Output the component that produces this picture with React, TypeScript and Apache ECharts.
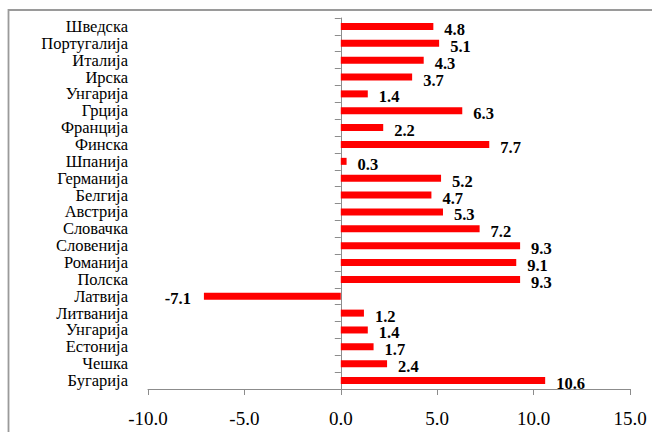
import React, { useEffect, useRef } from "react";
import * as echarts from "echarts";

const countries: string[] = [
  "Шведска", "Португалија", "Италија", "Ирска", "Унгарија", "Грција",
  "Франција", "Финска", "Шпанија", "Германија", "Белгија", "Австрија",
  "Словачка", "Словенија", "Романија", "Полска", "Латвија", "Литванија",
  "Унгарија", "Естонија", "Чешка", "Бугарија",
];
const values: number[] = [
  4.8, 5.1, 4.3, 3.7, 1.4, 6.3, 2.2, 7.7, 0.3, 5.2, 4.7, 5.3,
  7.2, 9.3, 9.1, 9.3, -7.1, 1.2, 1.4, 1.7, 2.4, 10.6,
];
const xMin = -10;
const xMax = 15;
const xStep = 5;
const titleText = "(Динамика на БДП, стапки на раст)";

const FONT = "Liberation Serif";

export default function App() {
  const ref = useRef<HTMLDivElement>(null);
  useEffect(() => {
    if (!ref.current) return;
    const chart = echarts.init(ref.current, undefined, { renderer: "svg" });
    chart.setOption({
      animation: false,
      backgroundColor: "#ffffff",
      textStyle: { fontFamily: FONT },
      grid: { left: 148, right: 22, top: 18, bottom: 43, containLabel: false },
      xAxis: {
        type: "value",
        min: xMin,
        max: xMax,
        interval: xStep,
        axisLine: { show: true, onZero: false, lineStyle: { color: "#8c8c8c", width: 1 } },
        axisTick: { show: true, length: 6, lineStyle: { color: "#8c8c8c" } },
        splitLine: { show: false },
        axisLabel: {
          margin: 20,
          fontFamily: FONT,
          fontSize: 19,
          color: "#000",
          formatter: (v: number) => v.toFixed(1),
        },
      },
      yAxis: [
        {
          type: "category",
          data: countries,
          inverse: true,
          position: "left",
          axisLine: { show: false, onZero: false },
          axisTick: { show: false },
          axisLabel: {
            margin: 20,
            fontFamily: FONT,
            fontSize: 16.5,
            lineHeight: 15,
            color: "#000",
            interval: 0,
          },
        },
        {
          type: "category",
          data: countries,
          inverse: true,
          position: "left",
          axisLine: { show: true, onZero: true, lineStyle: { color: "#8c8c8c", width: 1 } },
          axisTick: { show: true, length: 6, interval: 0, lineStyle: { color: "#8c8c8c" } },
          axisLabel: { show: false },
        },
      ],
      series: [
        {
          type: "bar",
          yAxisIndex: 0,
          data: values.map((v) =>
            v < 0
              ? { value: v, label: { position: "left", distance: 13, offset: [0, 2] } }
              : v
          ),
          barWidth: 7,
          itemStyle: { color: "#ff0000" },
          label: {
            show: true,
            fontFamily: FONT,
            fontSize: 16.5,
            lineHeight: 15,
            fontWeight: "bold",
            color: "#000",
            formatter: (p: any) => Number(p.value).toFixed(1),
            position: "right",
            distance: 11,
            offset: [0, 3],
          },
        },
      ],
      graphic: [
        {
          type: "rect",
          shape: { x: 8.5, y: 10, width: 700, height: 500 },
          style: { fill: "none", stroke: "#9a9a9a", lineWidth: 1.8 },
          silent: true,
        },
        {
          type: "text",
          x: 8,
          y: -10,
          style: {
            text: titleText,
            fontFamily: FONT,
            fontSize: 18,
            fill: "#000",
            verticalAlign: "middle",
            align: "left",
          },
          silent: true,
        },
      ],
    });
    return () => chart.dispose();
  }, []);
  return (
    <div
      ref={ref}
      style={{ position: "fixed", left: 0, top: 0, width: 652, height: 432 }}
    />
  );
}
